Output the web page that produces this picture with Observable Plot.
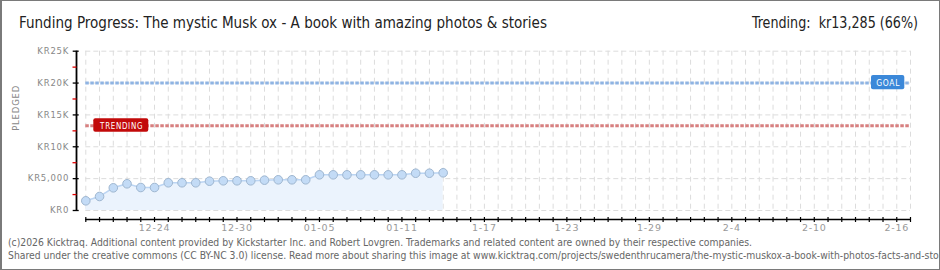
<!DOCTYPE html>
<html><head><meta charset="utf-8">
<script src="https://cdn.jsdelivr.net/npm/d3@7"></script>
<script src="https://cdn.jsdelivr.net/npm/@observablehq/plot@0.6"></script>
<style>
html,body{margin:0;padding:0;background:#fff;}
#wrap{position:relative;width:940px;height:270px;overflow:hidden;background:#fff;}
#frame{position:absolute;left:0;top:0;width:940px;height:270px;box-sizing:border-box;border:1px solid #7a7a7a;border-left-width:2px;pointer-events:none;}
.fit{position:absolute;white-space:nowrap;transform-origin:0 0;}
#title,#trend{top:13px;font-family:"DejaVu Sans Condensed","Liberation Sans Narrow",sans-serif;font-size:16.5px;color:#222;}
#chart{position:absolute;left:0;top:40px;}
.foot{font-family:"DejaVu Sans Condensed","DejaVu Sans",sans-serif;font-size:10px;color:#666;}
</style></head>
<body>
<div id="wrap">
  <div class="fit" id="title"></div>
  <div class="fit" id="trend"></div>
  <div id="chart"></div>
  <div class="fit foot" id="f1" style="top:237px"></div>
  <div class="fit foot" id="f2" style="top:250px"></div>
  <div id="frame"></div>
</div>
<script>
// ---- data ----
const titleText = "Funding Progress: The mystic Musk ox - A book with amazing photos & stories";
const trendText = "Trending:\u00a0 kr13,285 (66%)";
const footLine1 = "(c)2026 Kicktraq. Additional content provided by Kickstarter Inc. and Robert Lovgren. Trademarks and related content are owned by their respective companies.";
const footLine2 = "Shared under the creative commons (CC BY-NC 3.0) license. Read more about sharing this image at www.kicktraq.com/projects/swedenthrucamera/the-mystic-muskox-a-book-with-photos-facts-and-stories/";

const dates = ["2025-12-19","2025-12-20","2025-12-21","2025-12-22","2025-12-23","2025-12-24","2025-12-25","2025-12-26","2025-12-27","2025-12-28","2025-12-29","2025-12-30","2025-12-31","2026-01-01","2026-01-02","2026-01-03","2026-01-04","2026-01-05","2026-01-06","2026-01-07","2026-01-08","2026-01-09","2026-01-10","2026-01-11","2026-01-12","2026-01-13","2026-01-14"];
const pledged = [1520,2200,3560,4190,3610,3610,4350,4350,4350,4600,4660,4660,4660,4760,4818,4818,4818,5600,5600,5600,5600,5600,5600,5600,5850,5850,5917];

const goal = 20000;
const trending = 13285;

const axisStart = "2025-12-19";
const axisEnd = "2026-02-17";
const xLabelDates = ["2025-12-24","2025-12-30","2026-01-05","2026-01-11","2026-01-17","2026-01-23","2026-01-29","2026-02-04","2026-02-10","2026-02-16"];
const xLabelTexts = ["12-24","12-30","01-05","01-11","1-17","1-23","1-29","2-4","2-10","2-16"];

const yMajor = [0,5000,10000,15000,20000,25000];
const yMajorLabels = ["KR0","KR5,000","KR10K","KR15K","KR20K","KR25K"];
const yMinor = [2500,7500,12500,17500,22500];

// ---- build ----
document.getElementById("title").textContent = titleText;
document.getElementById("trend").textContent = trendText;
document.getElementById("f1").textContent = footLine1;
document.getElementById("f2").textContent = footLine2;

const data = dates.map((d,i)=>({date:new Date(d), value:pledged[i]}));
const start = new Date(axisStart), end = new Date(axisEnd);
const days = d3.utcDay.range(start, new Date(+end + 1));
const xLabelMap = new Map(xLabelDates.map((d,i)=>[+new Date(d), xLabelTexts[i]]));
const yLabelMap = new Map(yMajor.map((v,i)=>[v, yMajorLabels[i]]));

const pix = "DejaVu Sans, sans-serif";

const chart = Plot.plot({
  width: 940, height: 190,
  marginLeft: 85.3, marginRight: 30, marginTop: 10.7, marginBottom: 20,
  x: {type: "utc", domain: [start, end], label: null},
  y: {domain: [0, 25000], label: null},
  style: {fontFamily: pix, fontSize: "9px", background: "transparent", overflow: "visible", color: "#888"},
  marks: [
    Plot.gridX(days, {stroke: "#dcdcdc", strokeOpacity: 1, strokeDasharray: "5,4", strokeWidth: 1}),
    Plot.gridY(yMajor, {stroke: "#dcdcdc", strokeOpacity: 1, strokeDasharray: "5,3", strokeWidth: 1}),
    Plot.areaY(data, {x: "date", y: "value", fill: "#ebf3fd"}),
    Plot.lineY(data, {x: "date", y: "value", stroke: "#bcd5f3", strokeWidth: 1.5}),
    Plot.ruleY([goal], {x1: start, x2: end, stroke: "#8fb4e3", strokeWidth: 3, strokeDasharray: "3.5,1.5"}),
    Plot.ruleY([trending], {x1: start, x2: end, stroke: "#d88080", strokeWidth: 3, strokeDasharray: "3.5,1.5"}),
    Plot.dot(data, {x: "date", y: "value", r: 4.3, fill: "#c3dbf6", stroke: "#9eb6d0", strokeWidth: 1}),
    // badges
    Plot.rect([trending], {x1: start, x2: start, y1: d=>d, y2: d=>d, insetLeft: 8, insetRight: -63, insetTop: -7, insetBottom: -6.4, fill: "#c20a0a", rx: 2}),
    Plot.text([trending], {x: start, y: d=>d, text: ()=>"TRENDING", dx: 35.8, dy: 0.5, fill: "white", fontSize: 8.5, fontFamily: pix, className: "badge-t"}),
    Plot.rect([goal], {x1: end, x2: end, y1: d=>d, y2: d=>d, insetLeft: -39, insetRight: 5.7, insetTop: -7.6, insetBottom: -6.7, fill: "#3b88d9", rx: 2}),
    Plot.text([goal], {x: end, y: d=>d, text: ()=>"GOAL", dx: -22.3, dy: 0.5, fill: "white", fontSize: 8.5, fontFamily: pix, className: "badge-g"}),
    // y axis
    Plot.ruleX([start], {y1: 0, y2: 25000, dx: -9.3, stroke: "black", strokeWidth: 1.8}),
    Plot.axisY(yMinor, {tickSize: 4, dx: -8.8, stroke: "#e00000", strokeWidth: 1.3, tickFormat: () => "", label: null}),
    Plot.axisY(yMajor, {tickSize: 6, dx: -6.6, tickPadding: 4, stroke: "black", strokeWidth: 1.3, fill: "#888", fontSize: 8.5, tickFormat: d => yLabelMap.get(d), label: null, className: "ylab"}),
    Plot.text(["PLEDGED"], {frameAnchor: "left", dx: -69.5, rotate: -90, fill: "#888", fontSize: 8.5, fontFamily: pix}),
    // x axis
    Plot.ruleY([0], {x1: start, x2: end, dy: 9, stroke: "black", strokeWidth: 1.5}),
    Plot.axisX(days, {tickSize: 5, dy: 7, tickPadding: 1.5, stroke: "black", strokeWidth: 1.2, fill: "#999", fontSize: 9.5, tickFormat: d => xLabelMap.get(+d) || "", label: null})
  ]
});
chart.querySelectorAll("text").forEach(t => t.style.letterSpacing = "0.8px");
document.getElementById("chart").appendChild(chart);

// fit badge texts to the reference widths
function fitSvgText(sel, w) {
  chart.querySelectorAll(sel + " text").forEach(t => { t.setAttribute("textLength", w); t.setAttribute("lengthAdjust", "spacingAndGlyphs"); });
}
fitSvgText(".badge-t", 43);
fitSvgText(".badge-g", 24);

// fit html texts horizontally to the reference extents
function scaleHtml(id, left, s) {
  const el = document.getElementById(id);
  el.style.left = left + "px";
  el.style.transform = "scaleX(" + s + ")";
}
function widthOf(id) { return document.getElementById(id).getBoundingClientRect().width; }
const footScale = 744 / widthOf("f1");
scaleHtml("title", 19, 528 / widthOf("title"));
scaleHtml("trend", 752, 166 / widthOf("trend"));
scaleHtml("f1", 8, footScale);
scaleHtml("f2", 8, footScale);
</script>
</body></html>
